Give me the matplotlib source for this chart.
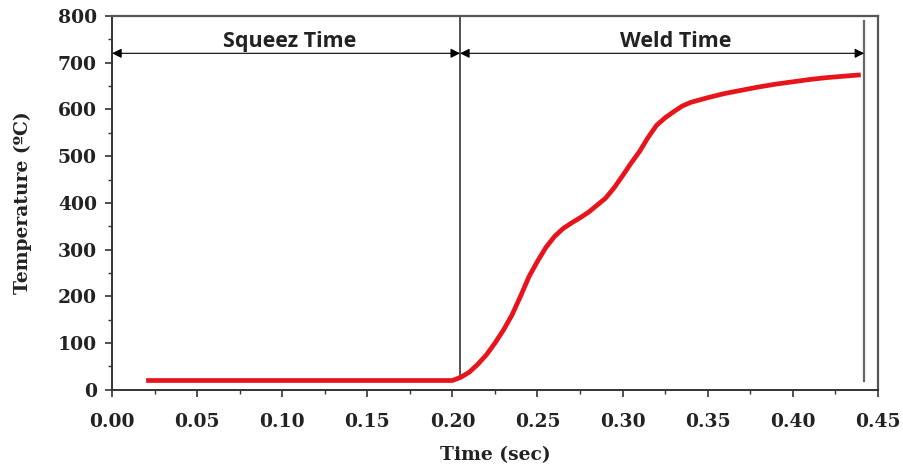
import matplotlib.pyplot as plt
from matplotlib.ticker import MultipleLocator

# temperature curve
time_s = [0.02, 0.05, 0.10, 0.15, 0.20, 0.205, 0.21, 0.215, 0.22, 0.225,
          0.23, 0.235, 0.24, 0.245, 0.25, 0.255, 0.26, 0.265, 0.27, 0.275,
          0.28, 0.285, 0.29, 0.295, 0.30, 0.305, 0.31, 0.315, 0.32, 0.325,
          0.33, 0.335, 0.34, 0.35, 0.36, 0.37, 0.38, 0.39, 0.40, 0.41,
          0.42, 0.43, 0.44]
temp_c = [20, 20, 20, 20, 20, 27, 38, 55, 75, 100,
          128, 160, 200, 242, 275, 305, 328, 345, 357, 368,
          380, 395, 410, 432, 458, 485, 510, 540, 566, 582,
          595, 607, 615, 625, 634, 641, 648, 654, 659, 664,
          668, 671, 674]

squeeze_end = 0.2045
weld_end = 0.442
arrow_y = 720
phase_labels = ["Squeez Time", "Weld Time"]

serif = "DejaVu Serif"
sans = "Open Sans"

fig, ax = plt.subplots(figsize=(9.04, 4.68), dpi=100)
fig.subplots_adjust(left=0.124, right=0.971, top=0.966, bottom=0.167)

ax.plot(time_s, temp_c, color="#e8141b", linewidth=3.4, solid_capstyle="butt", zorder=3)

# phase boundaries
ax.plot([squeeze_end, squeeze_end], [25, 800], color="#333333", linewidth=1.2, zorder=2)
ax.plot([weld_end, weld_end], [18, 790], color="#666666", linewidth=1.6, zorder=2)

# phase arrows
arrow_kw = dict(arrowstyle="<|-|>", color="black", linewidth=0.8,
                mutation_scale=14, shrinkA=0, shrinkB=0)
ax.annotate("", xy=(0.0, arrow_y), xytext=(squeeze_end, arrow_y), arrowprops=arrow_kw)
ax.annotate("", xy=(squeeze_end, arrow_y), xytext=(weld_end, arrow_y), arrowprops=arrow_kw)
ax.text(0.1045, 746, phase_labels[0], ha="center", va="center",
        fontsize=15.5, fontweight="bold", family=sans, color="#222222")
ax.text(0.331, 746, phase_labels[1], ha="center", va="center",
        fontsize=15.5, fontweight="bold", family=sans, color="#222222")

ax.set_xlim(0, 0.45)
ax.set_ylim(0, 800)
ax.xaxis.set_major_locator(MultipleLocator(0.05))
ax.xaxis.set_minor_locator(MultipleLocator(0.025))
ax.yaxis.set_major_locator(MultipleLocator(100))
ax.yaxis.set_minor_locator(MultipleLocator(50))
ax.xaxis.set_major_formatter(lambda v, p: f"{v:.2f}")

ax.tick_params(which="major", direction="out", length=5, width=1.2, color="#333333")
ax.tick_params(which="minor", direction="out", length=3, width=1.0, color="#333333")
ax.tick_params(labelsize=13.5)
ax.tick_params(axis="x", pad=12)
ax.tick_params(axis="y", pad=6)
for lab in ax.get_xticklabels() + ax.get_yticklabels():
    lab.set_family(serif)
    lab.set_fontweight("bold")
    lab.set_color("#222222")

for side in ["left", "bottom"]:
    ax.spines[side].set_linewidth(1.4)
    ax.spines[side].set_color("#333333")
for side in ["top", "right"]:
    ax.spines[side].set_linewidth(1.6)
    ax.spines[side].set_color("#555555")

ax.set_xlabel("Time (sec)", fontsize=13.5, fontweight="bold", family=serif,
              color="#222222")
ax.set_ylabel("Temperature (ºC)", fontsize=13.5, fontweight="bold", family=serif,
              color="#222222")
ax.yaxis.set_label_coords(-0.105, 0.5)
ax.xaxis.set_label_coords(0.5, -0.15)

fig.savefig("out.png", dpi=100)
